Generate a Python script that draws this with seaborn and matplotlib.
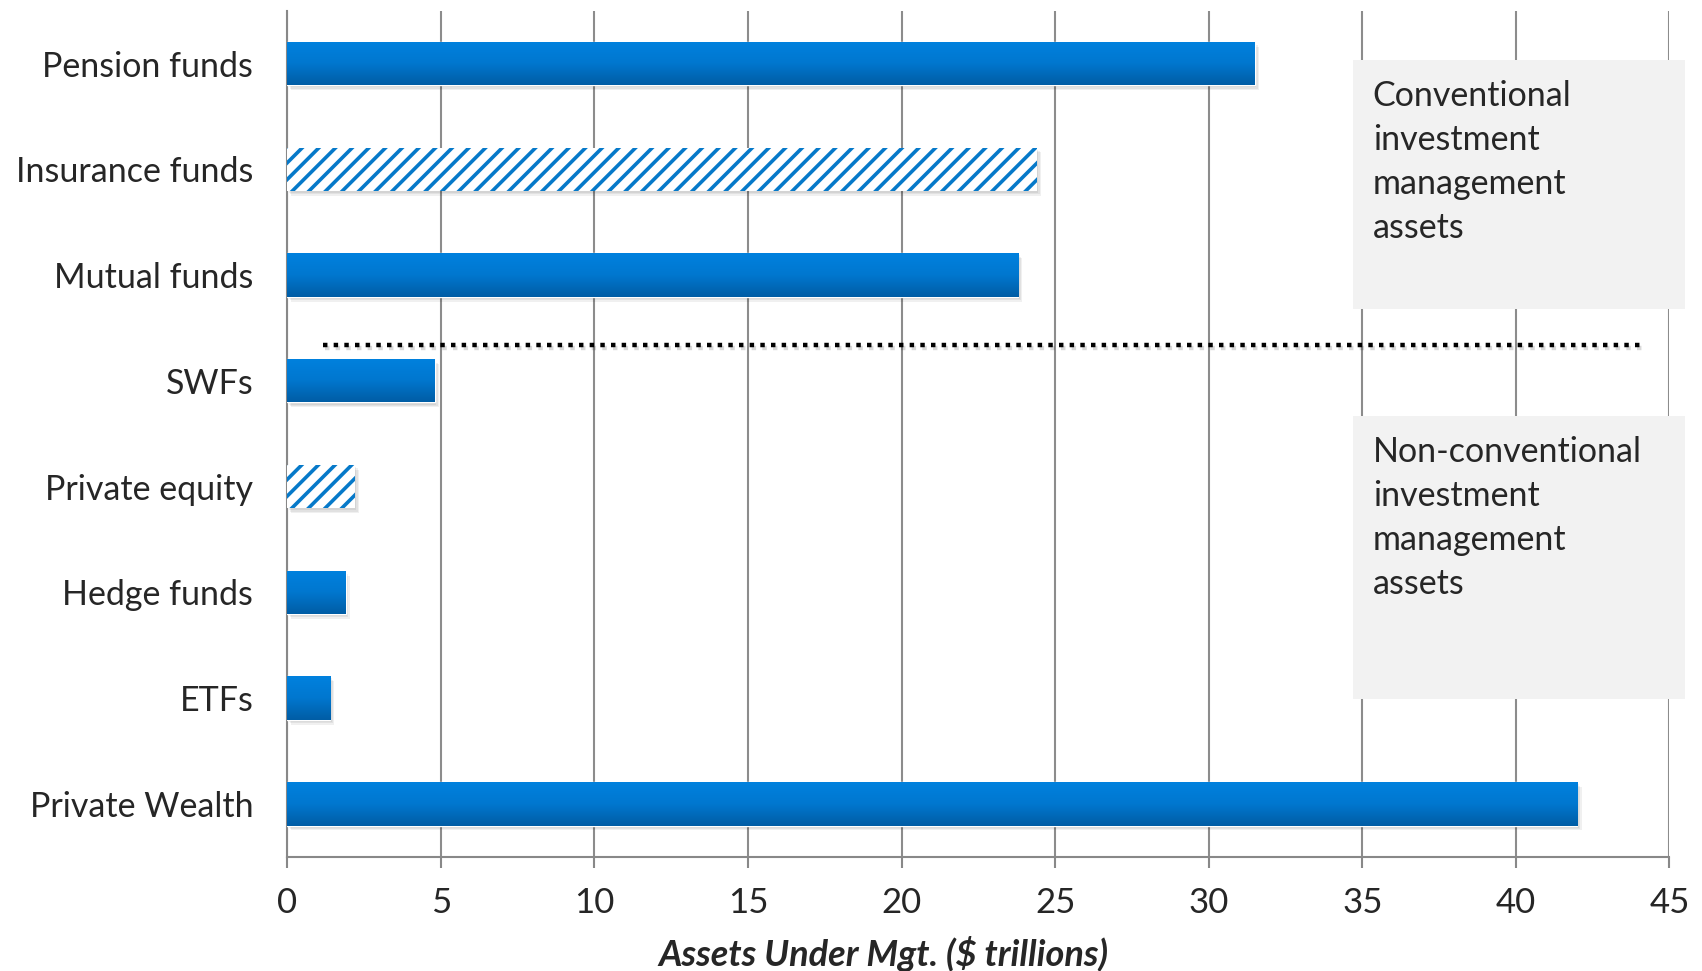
import numpy as np
import matplotlib
matplotlib.use('Agg')
import matplotlib.pyplot as plt
import matplotlib.patheffects as pe
import seaborn as sns
from matplotlib.colors import LinearSegmentedColormap
from matplotlib.patches import Rectangle
from matplotlib.transforms import ScaledTranslation

# assets under management by investor type ($ trillions)
categories = ['Pension funds', 'Insurance funds', 'Mutual funds', 'SWFs',
              'Private equity', 'Hedge funds', 'ETFs', 'Private Wealth']
assets = [31.5, 24.4, 23.8, 4.8, 2.2, 1.9, 1.4, 42.0]
hatched = ['Insurance funds', 'Private equity']
x_ticks = [0, 5, 10, 15, 20, 25, 30, 35, 40, 45]
box_labels = ['Conventional\ninvestment\nmanagement\nassets',
              'Non-conventional\ninvestment\nmanagement\nassets']
x_title = 'Assets Under Mgt. ($ trillions)'

sns.set_style('white')
plt.rcParams['font.family'] = ['Lato', 'DejaVu Sans']
plt.rcParams['hatch.linewidth'] = 2.6

fig = plt.figure(figsize=(17.02, 9.71), dpi=100)
ax = fig.add_axes([0.1688, 0.1177, 0.8121, 0.8713])

sns.barplot(x=assets, y=categories, orient='h', color='#0078D2', saturation=1,
            width=0.41, ax=ax, zorder=3)

# gradient fill, soft shadow, hatched bars
grad = LinearSegmentedColormap.from_list('bar', ['#0081DE', '#0077CF', '#005DA5'])
shade = np.linspace(0, 1, 64).reshape(-1, 1)
bars = list(ax.patches)
for name, p in zip(categories, bars):
    x0, y0 = p.get_xy()
    w, h = p.get_width(), p.get_height()
    for dx, dy in [(1, -1.5), (2, -2.5), (3, -3.5)]:
        off = ScaledTranslation(dx / 72, dy / 72, fig.dpi_scale_trans)
        ax.add_patch(Rectangle((x0, y0), w, h, transform=ax.transData + off,
                               facecolor='black', alpha=0.06, lw=0, zorder=2))
    if name in hatched:
        p.set_facecolor('white')
        p.set_edgecolor('#0679C9')
        p.set_hatch('//')
        p.set_linewidth(0)
    else:
        im = ax.imshow(shade, cmap=grad, aspect='auto', origin='upper',
                       extent=(x0, x0 + w, y0 + h, y0), zorder=4,
                       interpolation='bilinear')
        im.set_clip_path(p)

# dotted divider between conventional and non-conventional
ax.plot([1.15, 44.2], [2.66, 2.66], color='black', lw=3.2, dashes=(1, 1.4),
        zorder=5, path_effects=[pe.SimpleLineShadow(offset=(1.5, -2), alpha=0.15),
                                pe.Normal()])

ax.set_xlim(0, 45)
ax.set_ylim(len(categories) - 0.5, -0.5)
ax.set_xticks(x_ticks)
ax.set_yticks(range(len(categories)))
ax.set_yticklabels(categories)
ax.set_yticks(np.arange(len(categories) + 1) - 0.5, minor=True)
ax.tick_params(axis='y', which='major', length=0, pad=24.5, labelsize=24.5)
ax.tick_params(axis='y', which='minor', length=8, width=1.5, color='#888888',
               direction='out')
ax.tick_params(axis='x', length=8, width=1.5, color='#888888', direction='out',
               pad=14, labelsize=25, bottom=True)
ax.xaxis.grid(True, color='#8C8C8C', lw=1.5)
ax.yaxis.grid(False)
ax.set_axisbelow(True)
for s in ['top', 'right']:
    ax.spines[s].set_visible(False)
for s in ['left', 'bottom']:
    ax.spines[s].set_color('#888888')
    ax.spines[s].set_linewidth(1.5)
for t in ax.get_yticklabels():
    t.set_y(t.get_position()[1])
    t.set_va('center_baseline')

ax.set_ylabel('')
ax.set_xlabel(x_title, fontsize=26, fontweight='bold', fontstyle='italic')
ax.xaxis.set_label_coords(0.4313, -0.0935)

# grey annotation boxes
for label, (bx, by, bw, bh) in zip(box_labels, [(0.795, 0.682, 0.195, 0.2557),
                                                (0.795, 0.2801, 0.195, 0.2915)]):
    fig.add_artist(Rectangle((bx, by), bw, bh, transform=fig.transFigure,
                             facecolor='#F2F2F2', lw=0, zorder=2))
    fig.text(0.8065, by + bh - 20 / 971, label, fontsize=24.5, va='top',
             ha='left', linespacing=1.46, zorder=3)

fig.savefig('out.png', dpi=100)
